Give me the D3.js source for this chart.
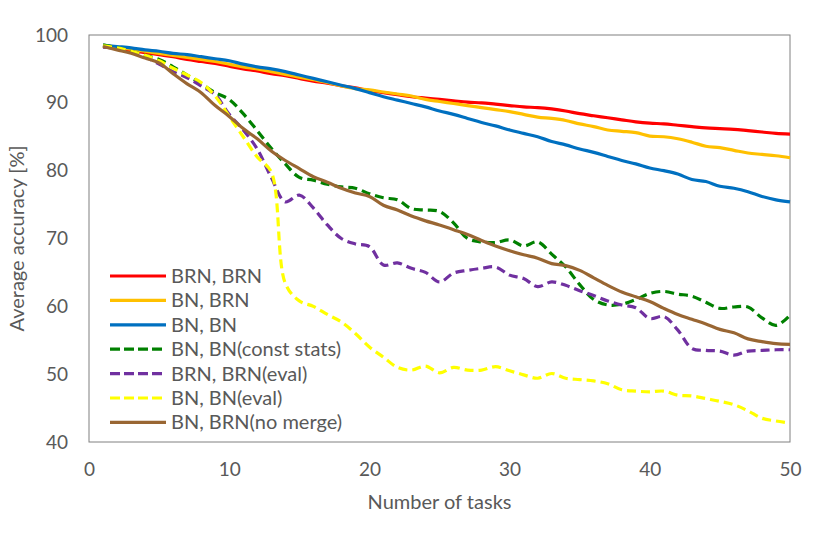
<!DOCTYPE html>
<html>
<head>
<meta charset="utf-8">
<script src="https://cdn.jsdelivr.net/npm/d3@7"></script>
<style>
  body { margin: 0; background: #fff; }
  text { font-family: Lato, "Open Sans", sans-serif; fill: #595959; }
</style>
</head>
<body>
<div id="chart"></div>
<script>
// Chart data
var tasks = d3.range(1, 51);
var xTicks = [0, 10, 20, 30, 40, 50];
var yTicks = [40, 50, 60, 70, 80, 90, 100];

var seriesNames = ["BRN, BRN", "BN, BRN", "BN, BN", "BN, BN(const stats)",
                   "BRN, BRN(eval)", "BN, BN(eval)", "BN, BRN(no merge)"];

var brnBrn = [98.3, 98.0, 97.7, 97.4, 97.1, 96.8, 96.4, 96.1, 95.8, 95.4,
              95.0, 94.7, 94.3, 94.0, 93.6, 93.2, 92.9, 92.5, 92.2, 91.8,
              91.5, 91.2, 90.9, 90.7, 90.5, 90.3, 90.1, 90.0, 89.8, 89.6,
              89.4, 89.3, 89.1, 88.8, 88.4, 88.1, 87.8, 87.5, 87.2, 87.0,
              86.9, 86.7, 86.5, 86.3, 86.2, 86.1, 85.9, 85.7, 85.5, 85.4];
var bnBrn = [98.5, 98.2, 97.9, 97.6, 97.3, 97.0, 96.7, 96.4, 96.1, 95.7,
             95.3, 95.0, 94.6, 94.2, 93.8, 93.4, 93.0, 92.5, 92.1, 91.9,
             91.6, 91.3, 91.0, 90.5, 90.2, 89.9, 89.6, 89.3, 89.0, 88.7,
             88.3, 87.9, 87.7, 87.4, 86.9, 86.5, 86.0, 85.8, 85.6, 85.1,
             85.0, 84.7, 84.2, 83.6, 83.4, 83.0, 82.6, 82.4, 82.2, 81.9];
var bnBn = [98.5, 98.3, 98.1, 97.8, 97.6, 97.3, 97.1, 96.8, 96.5, 96.2,
            95.7, 95.3, 95.0, 94.6, 94.1, 93.6, 93.1, 92.6, 92.1, 91.5,
            90.9, 90.4, 89.9, 89.4, 88.8, 88.3, 87.7, 87.1, 86.6, 86.0,
            85.5, 85.0, 84.3, 83.8, 83.2, 82.7, 82.1, 81.5, 81.0, 80.4,
            80.0, 79.5, 78.7, 78.4, 77.7, 77.4, 76.9, 76.2, 75.7, 75.4];
var bnBnConst = [98.5, 98.1, 97.6, 97.0, 96.4, 95.3, 94.1, 92.8, 91.5, 90.5,
                 88.4, 85.9, 83.3, 81.0, 79.0, 78.6, 78.0, 77.6, 77.4, 76.6,
                 76.0, 75.7, 74.4, 74.2, 74.0, 72.3, 70.0, 69.5, 69.4, 69.8,
                 68.9, 69.5, 67.7, 65.8, 63.2, 61.0, 60.2, 60.3, 61.0, 61.9,
                 62.2, 61.8, 61.5, 60.6, 59.7, 59.9, 59.9, 58.3, 57.2, 58.7];
var brnBrnEval = [98.2, 98.0, 97.6, 96.8, 95.7, 94.6, 93.7, 92.5, 91.2, 88.3,
                  86.0, 83.2, 79.0, 75.4, 76.4, 74.5, 72.0, 70.0, 69.2, 68.8,
                  66.1, 66.4, 65.6, 65.0, 63.6, 64.9, 65.3, 65.6, 65.8, 64.6,
                  64.1, 62.9, 63.6, 63.1, 62.3, 61.6, 60.8, 60.2, 59.8, 58.2,
                  58.5, 56.5, 53.8, 53.5, 53.4, 52.8, 53.4, 53.5, 53.6, 53.6];
var bnBnEval = [98.4, 98.1, 97.6, 97.0, 96.2, 95.1, 94.1, 93.0, 91.0, 88.0,
                85.0, 82.0, 79.8, 63.4, 60.8, 60.0, 58.8, 57.7, 56.0, 54.0,
                52.5, 51.0, 50.6, 51.2, 50.2, 51.0, 50.6, 50.6, 51.1, 50.5,
                49.9, 49.4, 50.1, 49.4, 49.2, 49.0, 48.6, 47.7, 47.5, 47.4,
                47.5, 46.9, 46.8, 46.4, 46.0, 45.5, 44.6, 43.5, 43.1, 42.8];
var bnBrnNoMerge = [98.3, 97.8, 97.3, 96.6, 95.9, 94.3, 92.8, 91.5, 89.6, 88.0,
                    86.2, 84.7, 82.9, 81.5, 80.3, 79.1, 78.3, 77.4, 76.7, 76.2,
                    74.9, 74.2, 73.3, 72.6, 72.0, 71.3, 70.6, 69.7, 68.9, 68.2,
                    67.6, 67.1, 66.3, 66.0, 65.3, 64.2, 63.1, 62.1, 61.4, 60.7,
                    59.7, 58.8, 58.1, 57.4, 56.6, 56.1, 55.2, 54.8, 54.5, 54.4];

var seriesValues = [brnBrn, bnBrn, bnBn, bnBnConst, brnBrnEval, bnBnEval, bnBrnNoMerge];
var seriesColors = ["#ff0000", "#ffc000", "#0070c0", "#008000", "#7030a0", "#ffff00", "#996633"];
var seriesDashed = [false, false, false, true, true, true, false];

var svgWidth = 830;
var svgHeight = 534;
var margin = { top: 35, right: 40, bottom: 92, left: 89 };
var width = svgWidth - margin.left - margin.right;
var height = svgHeight - margin.top - margin.bottom;

var svg = d3.select("#chart")
  .append("svg")
  .attr("width", svgWidth)
  .attr("height", svgHeight);

var chartGroup = svg.append("g")
  .attr("transform", `translate(${margin.left}, ${margin.top})`);

var xScale = d3.scaleLinear().domain([0, 50]).range([0, width]);
var yScale = d3.scaleLinear().domain([40, 100]).range([height, 0]);

// plot area border
chartGroup.append("rect")
  .attr("width", width)
  .attr("height", height)
  .attr("fill", "none")
  .attr("stroke", "#808080")
  .attr("stroke-width", 1);

// axes: labels only, no tick marks or domain line
var xAxis = chartGroup.append("g")
  .attr("transform", `translate(0, ${height})`)
  .call(d3.axisBottom(xScale).tickValues(xTicks).tickSize(0).tickPadding(21));
var yAxis = chartGroup.append("g")
  .call(d3.axisLeft(yScale).tickValues(yTicks).tickSize(0).tickPadding(21));
[xAxis, yAxis].forEach(function(ax) {
  ax.select(".domain").remove();
  ax.selectAll("text")
    .style("font-family", "Lato, 'Open Sans', sans-serif")
    .style("font-size", "19px")
    .style("fill", "#595959");
});

var line = d3.line()
  .x((d, i) => xScale(tasks[i]))
  .y(d => yScale(d))
  .curve(d3.curveCatmullRom.alpha(0.5));

seriesValues.forEach(function(vals, i) {
  chartGroup.append("path")
    .datum(vals)
    .attr("fill", "none")
    .attr("stroke", seriesColors[i])
    .attr("stroke-width", 3.2)
    .attr("stroke-linejoin", "round")
    .attr("stroke-dasharray", seriesDashed[i] ? "9,5" : null)
    .attr("d", line);
});

// legend
var legend = svg.append("g").attr("transform", "translate(110, 276)");
seriesNames.forEach(function(name, i) {
  var row = legend.append("g").attr("transform", `translate(0, ${i * 24.4})`);
  row.append("line")
    .attr("x1", 0).attr("x2", 56)
    .attr("y1", 0).attr("y2", 0)
    .attr("stroke", seriesColors[i])
    .attr("stroke-width", 3.2)
    .attr("stroke-dasharray", seriesDashed[i] ? "10,4" : null);
  row.append("text")
    .attr("x", 61)
    .attr("y", 0)
    .attr("dy", "0.35em")
    .style("font-size", "20px")
    .text(name);
});

// axis titles
svg.append("text")
  .attr("x", margin.left + width / 2)
  .attr("y", 509)
  .attr("text-anchor", "middle")
  .style("font-size", "20px")
  .text("Number of tasks");

svg.append("text")
  .attr("transform", "rotate(-90)")
  .attr("x", -(margin.top + height / 2))
  .attr("y", 24)
  .attr("text-anchor", "middle")
  .style("font-size", "20px")
  .text("Average accuracy [%]");
</script>
</body>
</html>
